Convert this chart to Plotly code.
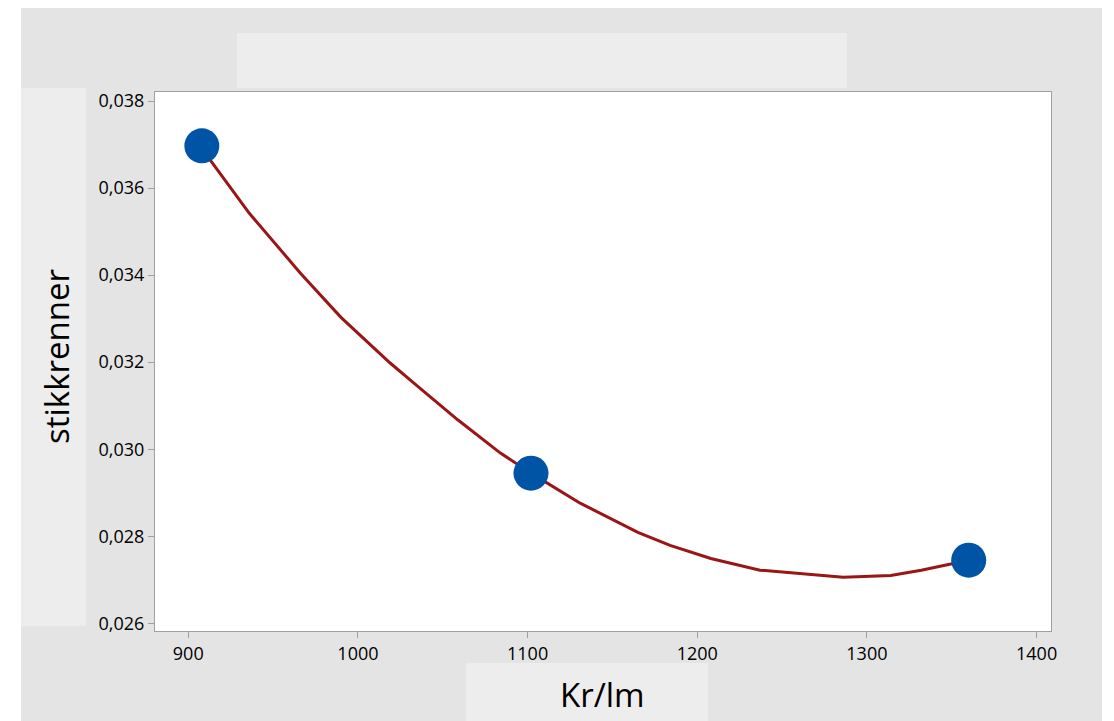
import plotly.graph_objects as go

# Observed data points
x_points = [908, 1102, 1360]
y_points = [0.03697, 0.02945, 0.02745]

# Fitted curve
x_fit = [908, 913, 936, 966, 990, 1019, 1033, 1059, 1084, 1102, 1131, 1145,
         1165, 1184, 1208, 1237, 1257, 1286, 1314, 1332, 1360]
y_fit = [0.03697, 0.03664, 0.03542, 0.03405, 0.03303, 0.03198, 0.03152, 0.03067,
         0.02991, 0.02945, 0.02876, 0.02848, 0.02809, 0.02779, 0.02749, 0.02722,
         0.02715, 0.02706, 0.02710, 0.02722, 0.02745]

x_ticks = [900, 1000, 1100, 1200, 1300, 1400]
y_ticks = [0.026, 0.028, 0.030, 0.032, 0.034, 0.036, 0.038]
y_tick_text = ["0,026", "0,028", "0,030", "0,032", "0,034", "0,036", "0,038"]

x_label = "Kr/lm"
y_label = "stikkrenner"

FONT = "Open Sans"
OFF = 8  # page body margin
W, H = 1114 - OFF, 721 - OFF
L, R, T, B = 155 - OFF, 1051 - OFF, 92 - OFF, 631 - OFF


def px(xp):
    return (xp - OFF - L) / (R - L)


def py(yp):
    return (B - (yp - OFF)) / (B - T)


fig = go.Figure()
fig.add_trace(go.Scatter(x=x_fit, y=y_fit, mode="lines",
                         line=dict(color="#9A1515", width=3), hoverinfo="skip"))
fig.add_trace(go.Scatter(x=x_points, y=y_points, mode="markers",
                         marker=dict(color="#0054A6", size=35, line=dict(width=0))))

outer = "#E4E4E4"
inner = "#EDEDED"
shapes = [
    dict(type="rect", xref="paper", yref="paper", x0=px(21), x1=px(1102), y0=py(5), y1=py(730),
         fillcolor=outer, line=dict(width=0), layer="below"),
    dict(type="rect", xref="paper", yref="paper", x0=px(237), x1=px(847), y0=py(33), y1=py(88),
         fillcolor=inner, line=dict(width=0), layer="below"),
    dict(type="rect", xref="paper", yref="paper", x0=px(21), x1=px(86), y0=py(88), y1=py(626),
         fillcolor=inner, line=dict(width=0), layer="below"),
    dict(type="rect", xref="paper", yref="paper", x0=px(466), x1=px(708), y0=py(663), y1=py(730),
         fillcolor=inner, line=dict(width=0), layer="below"),
    dict(type="rect", xref="paper", yref="paper", x0=0, x1=1, y0=0, y1=1,
         fillcolor="white", line=dict(width=0), layer="below"),
]

annotations = [
    dict(text=y_label, xref="paper", yref="paper", x=px(56), y=py(357), textangle=-90,
         showarrow=False, xanchor="center", yanchor="middle",
         font=dict(family=FONT, size=33, color="black")),
    dict(text=x_label, xref="paper", yref="paper", x=px(602), y=py(694),
         showarrow=False, xanchor="center", yanchor="middle",
         font=dict(family=FONT, size=33, color="black")),
]

fig.update_layout(
    width=W, height=H,
    margin=dict(l=L, r=W - R, t=T, b=H - B),
    paper_bgcolor="white", plot_bgcolor="white",
    showlegend=False,
    shapes=shapes, annotations=annotations,
    font=dict(family=FONT, size=18, color="black"),
    xaxis=dict(range=[880.4, 1408.5], tickvals=x_ticks, ticks="outside", ticklen=6,
               tickcolor="#A0A0A0", showline=True, linecolor="#A0A0A0", linewidth=1,
               mirror=True, showgrid=False, zeroline=False,
               tickfont=dict(family=FONT, size=18, color="black")),
    yaxis=dict(range=[0.025823, 0.038207], tickvals=y_ticks, ticktext=y_tick_text,
               ticks="outside", ticklen=6, tickcolor="#A0A0A0", showline=True,
               linecolor="#A0A0A0", linewidth=1, mirror=True, showgrid=False,
               zeroline=False, tickfont=dict(family=FONT, size=18, color="black")),
)

fig.write_html("out.html")
